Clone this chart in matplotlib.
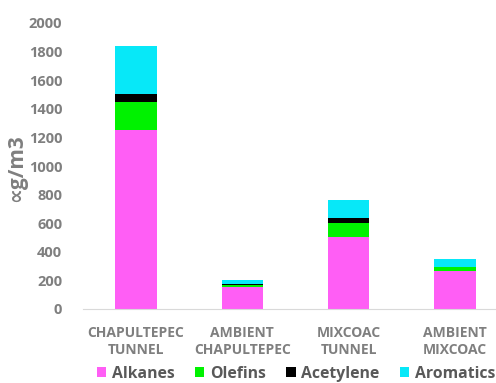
import numpy as np
import matplotlib
matplotlib.use('Agg')
from matplotlib import pyplot as plt

# VOC concentrations by site (stacked groups)
sites = ['CHAPULTEPEC\nTUNNEL', 'AMBIENT\nCHAPULTEPEC', 'MIXCOAC\nTUNNEL', 'AMBIENT\nMIXCOAC']
alkanes = [1250, 152, 505, 268]
olefins = [200, 18, 98, 26]
acetylene = [55, 7, 33, 3]
aromatics = [336, 26, 127, 56]

groups = ['Alkanes', 'Olefins', 'Acetylene', 'Aromatics']
colors = ['#FF5EF5', '#00F200', '#000000', '#07E8F8']

plt.rcParams['font.family'] = ['Open Sans', 'DejaVu Sans']
grey = '#7F7F7F'

fig = plt.figure(figsize=(4.96, 3.83), dpi=100)
ax = fig.add_axes([83 / 496, 74 / 383, 425 / 496, 286 / 383])

x = np.arange(len(sites))
bottom = np.zeros(len(sites))
handles = []
for name, vals, c in zip(groups, [alkanes, olefins, acetylene, aromatics], colors):
    h = ax.bar(x, vals, 0.39, bottom=bottom, color=c, label=name)
    handles.append(h)
    bottom += np.array(vals)

ax.set_xlim(-0.5, 3.5)
ax.set_ylim(0, 2000)
ax.set_yticks(range(0, 2001, 200))
ax.set_xticks(x)
ax.set_xticklabels(sites, linespacing=1.3)
ax.tick_params(axis='y', labelsize=10.5, labelcolor=grey, length=0, pad=15)
ax.tick_params(axis='x', labelsize=10, labelcolor=grey, length=0, pad=12)
for lbl in ax.get_yticklabels() + ax.get_xticklabels():
    lbl.set_fontweight('bold')

for s in ['top', 'right', 'left']:
    ax.spines[s].set_visible(False)
ax.spines['bottom'].set_color('#D9D9D9')

fig.text(17 / 496, 1 - 168 / 383, '\u221dg/m3', rotation=90, ha='center', va='center',
         fontsize=15, fontweight='bold', color=grey)

fig.legend(handles=handles, labels=groups, loc='center', bbox_to_anchor=(296 / 496, 1 - 374 / 383),
           ncol=4, frameon=False, handlelength=0.6, handleheight=0.6,
           handletextpad=0.35, columnspacing=1.3, prop={'weight': 'bold', 'size': 11.3},
           labelcolor='#595959')

fig.savefig('out.png', dpi=100)
